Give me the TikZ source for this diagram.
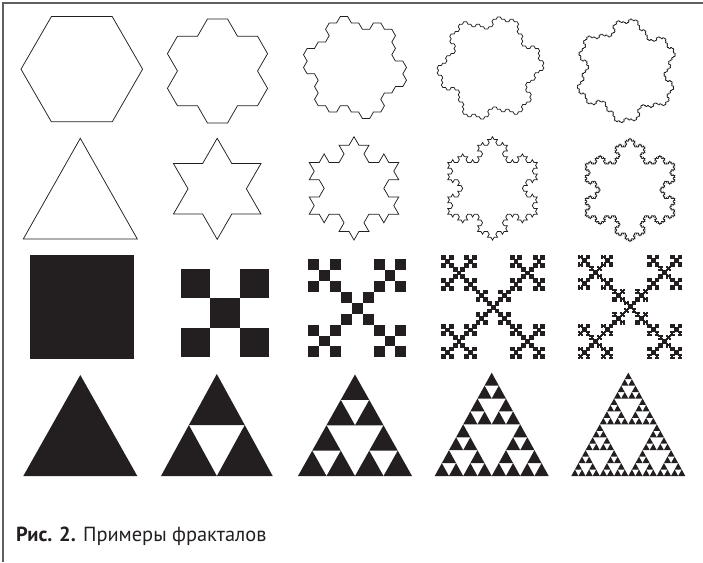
\documentclass[tikz,border=0pt]{standalone}
\usepackage{fontspec}
\setmainfont{PT Sans}
\usetikzlibrary{lindenmayersystems,calc}
\pgfdeclarelindenmayersystem{gosperisle}{\rule{F -> F+F-F}}
\pgfdeclarelindenmayersystem{kochflake}{\rule{F -> F-F++F-F}}
\definecolor{ink}{RGB}{35,31,32}
\definecolor{framegray}{RGB}{95,95,95}

\newcommand\sierpfill[7]{%
  \ifnum#1=0\relax
    \def\sfnext{\fill[ink] (#2,#3)--(#4,#5)--(#6,#7)--cycle;}%
  \else
    \pgfmathsetmacro\sfax{(#2+#4)/2}\pgfmathsetmacro\sfay{(#3+#5)/2}%
    \pgfmathsetmacro\sfbx{(#4+#6)/2}\pgfmathsetmacro\sfby{(#5+#7)/2}%
    \pgfmathsetmacro\sfcx{(#2+#6)/2}\pgfmathsetmacro\sfcy{(#3+#7)/2}%
    \pgfmathtruncatemacro\sfl{#1-1}%
    \edef\sfnext{%
      \noexpand\sierpfill{\sfl}{#2}{#3}{\sfax}{\sfay}{\sfcx}{\sfcy}%
      \noexpand\sierpfill{\sfl}{\sfax}{\sfay}{#4}{#5}{\sfbx}{\sfby}%
      \noexpand\sierpfill{\sfl}{\sfcx}{\sfcy}{\sfbx}{\sfby}{#6}{#7}}%
  \fi
  \sfnext}

\newcommand\vicsekfill[4]{%
  \ifnum#1=0\relax
    \def\vfnext{\path[vsq] (#2,#3) rectangle ++(#4,#4);}%
  \else
    \pgfmathsetmacro\vfs{#4/3}%
    \pgfmathsetmacro\vfxb{#2+\vfs}\pgfmathsetmacro\vfxc{#2+2*\vfs}%
    \pgfmathsetmacro\vfyb{#3+\vfs}\pgfmathsetmacro\vfyc{#3+2*\vfs}%
    \pgfmathtruncatemacro\vfl{#1-1}%
    \edef\vfnext{%
      \noexpand\vicsekfill{\vfl}{#2}{#3}{\vfs}%
      \noexpand\vicsekfill{\vfl}{\vfxc}{#3}{\vfs}%
      \noexpand\vicsekfill{\vfl}{\vfxb}{\vfyb}{\vfs}%
      \noexpand\vicsekfill{\vfl}{#2}{\vfyc}{\vfs}%
      \noexpand\vicsekfill{\vfl}{\vfxc}{\vfyc}{\vfs}}%
  \fi
  \vfnext}

\begin{document}
\begin{tikzpicture}[x=1pt,y=1pt,
  outl/.style={draw=ink,line width=0.75pt,line join=miter},
  vsq/.style={fill=ink}]
\useasboundingbox (0,0) rectangle (703,562);
% frame
\draw[framegray,line width=1.6pt] (2.7,0) -- (2.7,558.7) -- (703,558.7);

% ---------- row 1: Gosper island ----------
\coordinate (h0) at (81.8,492.8);
\draw[outl] (h0) ++(0:60.8) coordinate (h0a)
  -- ++(120:60.8) -- ++(180:60.8) -- ++(240:60.8) -- ++(300:60.8) -- ++(0:60.8) -- cycle;

\coordinate (g1c) at (217.5,491);
\path (g1c) ++({180+1*19.1066-60}:53) coordinate (g1);
\begin{scope}[shift={(g1)}]
\draw[outl, lindenmayer system={gosperisle, axiom=F-F-F-F-F-F, order=1, step=20.03pt, angle=60}]
  lindenmayer system -- cycle;
\end{scope}

\coordinate (g2c) at (355,494.5);
\path (g2c) ++({180+2*19.1066-60}:51.5) coordinate (g2);
\begin{scope}[shift={(g2)}]
\draw[outl, lindenmayer system={gosperisle, axiom=F-F-F-F-F-F, order=2, step=7.357pt, angle=60}]
  lindenmayer system -- cycle;
\end{scope}

\coordinate (g3c) at (490.5,494);
\path (g3c) ++({180+3*19.1066-60}:52) coordinate (g3);
\begin{scope}[shift={(g3)}]
\draw[outl, lindenmayer system={gosperisle, axiom=F-F-F-F-F-F, order=3, step=2.808pt, angle=60}]
  lindenmayer system -- cycle;
\end{scope}

\coordinate (g4c) at (626.3,491.2);
\path (g4c) ++({180+4*19.1066-60}:50.5) coordinate (g4);
\begin{scope}[shift={(g4)}]
\draw[outl, lindenmayer system={gosperisle, axiom=F-F-F-F-F-F, order=4, step=1.0306pt, angle=60}]
  lindenmayer system -- cycle;
\end{scope}

% ---------- row 2: Koch snowflake ----------
\coordinate (k0a) at (23.3,323);
\coordinate (k0b) at (137.3,323);
\coordinate (k0c) at (80.3,423.7);
\draw[outl] (k0a) -- (k0b) -- (k0c) -- cycle;

\coordinate (k1) at (173.45,347.94);
\begin{scope}[shift={(k1)}]
\draw[outl, lindenmayer system={kochflake, axiom=F++F++F, order=1, step=29.17pt, angle=60}]
  lindenmayer system -- cycle;
\end{scope}
\coordinate (k2) at (309.25,347.8);
\begin{scope}[shift={(k2)}]
\draw[outl, lindenmayer system={kochflake, axiom=F++F++F, order=2, step=9.944pt, angle=60}]
  lindenmayer system -- cycle;
\end{scope}
\coordinate (k3) at (447.75,347.8);
\begin{scope}[shift={(k3)}]
\draw[outl, lindenmayer system={kochflake, axiom=F++F++F, order=3, step=3.315pt, angle=60}]
  lindenmayer system -- cycle;
\end{scope}
\coordinate (k4) at (585.25,346.2);
\begin{scope}[shift={(k4)}]
\draw[outl, lindenmayer system={kochflake, axiom=F++F++F, order=4, step=1.105pt, angle=60}]
  lindenmayer system -- cycle;
\end{scope}

% ---------- row 3: Vicsek fractal ----------
\vicsekfill{0}{30}{202.7}{104}
\vicsekfill{1}{181}{204.7}{88.3}
\vicsekfill{2}{308.3}{204.7}{98}
\begin{scope}[vsq/.style={fill=ink,draw=ink,line width=0.6pt}]
\vicsekfill{3}{441.7}{203.7}{102.7}
\end{scope}
\begin{scope}[vsq/.style={fill=ink,draw=ink,line width=0.6pt}]
\vicsekfill{4}{578.3}{203.7}{103.4}
\end{scope}

% ---------- row 4: Sierpinski triangle ----------
\sierpfill{0}{23.3}{86}{137.3}{86}{80.3}{187}
\sierpfill{1}{161}{86}{272.7}{86}{216.8}{188}
\sierpfill{2}{298}{86}{412}{86}{355}{187.5}
\sierpfill{3}{434.7}{86}{548.7}{86}{491.7}{189.3}
\sierpfill{4}{571.3}{86}{685.3}{86}{628.3}{189.3}

% caption
\node[anchor=base west,inner sep=0pt,text=ink,font=\fontsize{20.4}{24}\selectfont] (cap) at (16,20.3)
  {\textbf{Рис. 2.} Примеры фракталов};
\end{tikzpicture}
\end{document}
